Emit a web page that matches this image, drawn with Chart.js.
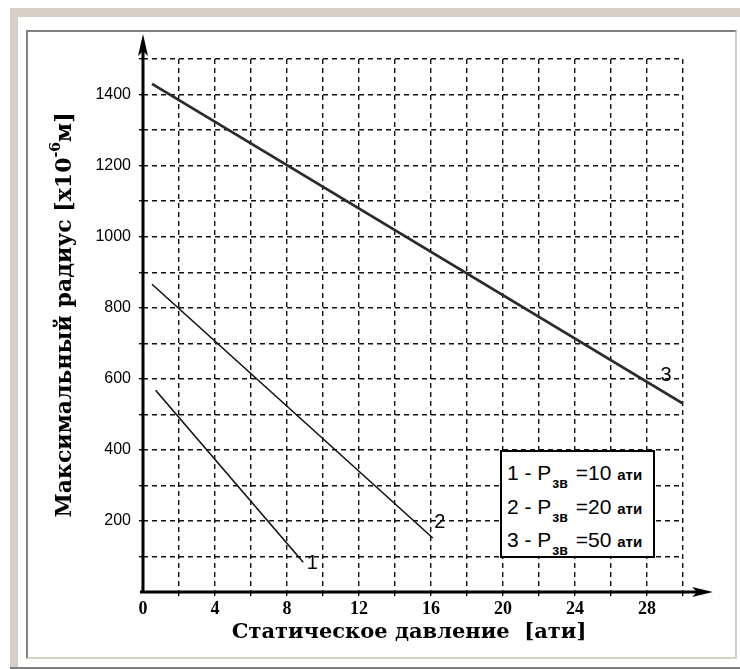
<!DOCTYPE html>
<html>
<head>
<meta charset="utf-8">
<script src="https://cdn.jsdelivr.net/npm/chart.js@4/dist/chart.umd.min.js"></script>
<style>
  html, body { margin: 0; padding: 0; background: #fff; }
  #page { position: relative; width: 740px; height: 669px; overflow: hidden; background: #fff; }
  .band { position: absolute; background: #d4d0c8; }
  #frame {
    position: absolute; left: 26px; top: 30px; width: 707px; height: 625px;
    border-top: 2px solid #808080; border-left: 2px solid #808080;
    border-right: 2px solid #d4d0c8; border-bottom: 2px solid #d4d0c8;
  }
  #plot { position: absolute; left: 0; top: 0; z-index: 1; }
  #key {
    position: absolute; left: 500px; top: 450px; width: 151px; height: 104px;
    border: 2px solid #000; background: #fff; z-index: 2;
    font-family: "Liberation Sans", Arial, sans-serif; color: #000;
  }
  #key div { position: absolute; left: 5px; font-size: 21px; line-height: 24px; white-space: nowrap; }
  #key sub { font-size: 14px; font-weight: bold; vertical-align: -8px; line-height: 0; margin: 0 2px 0 1px; }
  #key b { font-size: 15px; }
</style>
</head>
<body>
<div id="page">
  <div class="band" style="left:10px; top:8px; width:730px; height:9px;"></div>
  <div class="band" style="left:10px; top:8px; width:8px; height:659px;"></div>
  <div style="position:absolute; left:10px; top:667px; width:730px; height:2px; background:#808080;"></div>
  <div id="frame"></div>
  <canvas id="plot" width="740" height="669"></canvas>
  <div id="key">
    <div style="top:9px;">1 - P<sub>зв</sub> =10 <b>ати</b></div>
    <div style="top:43px;">2 - P<sub>зв</sub> =20 <b>ати</b></div>
    <div style="top:76px;">3 - P<sub>зв</sub> =50 <b>ати</b></div>
  </div>
</div>
<script>
// Максимальный радиус vs статическое давление, three curves
const pressure1 = [0.7, 8.9];
const radius1 = [568, 84];
const pressure2 = [0.5, 16.1];
const radius2 = [866, 152];
const pressure3 = [0.5, 30];
const radius3 = [1430, 530];
const curveNames = ['1', '2', '3'];

const xTitle = 'Статическое давление  [ати]';
const yTitleMain = 'Максимальный радиус [х10';
const yTitleSup = '-6';
const yTitleEnd = 'м]';

function toPoints(xs, ys) {
    return xs.map((x, i) => ({ x: x, y: ys[i] }));
}

// axes with arrow heads, curve numbers and axis titles
const decorations = {
    id: 'decorations',
    afterDatasetsDraw(chart) {
        const ctx = chart.ctx;
        const xs = chart.scales.x, ys = chart.scales.y;
        const x0 = xs.getPixelForValue(0);
        const y0 = ys.getPixelForValue(0);

        ctx.save();
        ctx.strokeStyle = '#000';
        ctx.fillStyle = '#000';
        ctx.lineWidth = 3;
        ctx.setLineDash([]);
        // y axis
        ctx.beginPath();
        ctx.moveTo(x0, y0 + 1);
        ctx.lineTo(x0, 50);
        ctx.stroke();
        ctx.beginPath();
        ctx.moveTo(x0, 34);
        ctx.lineTo(x0 + 5, 56);
        ctx.lineTo(x0, 51);
        ctx.lineTo(x0 - 5, 56);
        ctx.closePath();
        ctx.fill();
        // x axis
        ctx.beginPath();
        ctx.moveTo(x0 - 3, y0);
        ctx.lineTo(700, y0);
        ctx.stroke();
        ctx.beginPath();
        ctx.moveTo(713, y0);
        ctx.lineTo(692, y0 - 5);
        ctx.lineTo(697, y0);
        ctx.lineTo(692, y0 + 5);
        ctx.closePath();
        ctx.fill();

        // curve numbers next to the end of each line
        const offsets = [[9, 1], [7, -16], [-17, -28]];
        ctx.font = '20px "Liberation Sans", Arial, sans-serif';
        ctx.textAlign = 'center';
        ctx.textBaseline = 'middle';
        chart.data.datasets.forEach((ds, i) => {
            const last = ds.data[ds.data.length - 1];
            const px = xs.getPixelForValue(last.x) + offsets[i][0];
            const py = ys.getPixelForValue(last.y) + offsets[i][1];
            ctx.fillText(curveNames[i], px, py);
        });

        // x title
        ctx.font = 'bold 21px "DejaVu Serif", serif';
        ctx.textBaseline = 'middle';
        ctx.fillText(xTitle, 409, 633);

        // y title, rotated, with superscript power
        ctx.translate(65, 315);
        ctx.rotate(-Math.PI / 2);
        const mainFont = 'bold 22px "DejaVu Serif", serif';
        const supFont = 'bold 14px "DejaVu Serif", serif';
        ctx.font = mainFont;
        const w1 = ctx.measureText(yTitleMain).width;
        const w3 = ctx.measureText(yTitleEnd).width;
        ctx.font = supFont;
        const w2 = ctx.measureText(yTitleSup).width;
        let cx = -(w1 + w2 + w3) / 2;
        ctx.textAlign = 'left';
        ctx.font = mainFont;
        ctx.fillText(yTitleMain, cx, 0);
        cx += w1;
        ctx.font = supFont;
        ctx.fillText(yTitleSup, cx, -9);
        cx += w2;
        ctx.font = mainFont;
        ctx.fillText(yTitleEnd, cx, 0);
        ctx.restore();
    }
};

const gridColor = (c) => (c.tick && c.tick.value === 0) ? 'rgba(0,0,0,0)' : '#111';

new Chart(document.getElementById('plot').getContext('2d'), {
    type: 'scatter',
    data: {
        datasets: [
            {
                label: curveNames[0],
                data: toPoints(pressure1, radius1),
                showLine: true,
                borderColor: '#111',
                borderWidth: 1.6,
                pointRadius: 0
            },
            {
                label: curveNames[1],
                data: toPoints(pressure2, radius2),
                showLine: true,
                borderColor: '#111',
                borderWidth: 1.6,
                pointRadius: 0
            },
            {
                label: curveNames[2],
                data: toPoints(pressure3, radius3),
                showLine: true,
                borderColor: '#2a2a2a',
                borderWidth: 2.8,
                pointRadius: 0
            }
        ]
    },
    options: {
        responsive: false,
        animation: false,
        devicePixelRatio: 1,
        layout: { padding: { top: 59, right: 57, left: 0, bottom: 0 } },
        plugins: {
            legend: { display: false },
            tooltip: { enabled: false }
        },
        scales: {
            x: {
                type: 'linear',
                min: 0,
                max: 30,
                afterFit(s) { s.height = 77; s.paddingLeft = 0; s.paddingRight = 0; },
                border: { display: false, dash: [5, 4] },
                grid: { color: gridColor, lineWidth: 1.4, tickLength: 4, tickWidth: 1.4, tickBorderDash: [] },
                ticks: {
                    stepSize: 2,
                    autoSkip: false,
                    maxRotation: 0,
                    padding: 3,
                    color: '#000',
                    font: { family: '"Liberation Serif", serif', size: 18, weight: 'bold' },
                    callback: (v) => (v % 4 === 0 && v < 30) ? String(v) : ''
                }
            },
            y: {
                type: 'linear',
                min: 0,
                max: 1500,
                afterFit(s) { s.width = 143; s.paddingTop = 0; s.paddingBottom = 0; },
                border: { display: false, dash: [5, 4] },
                grid: { color: gridColor, lineWidth: 1.4, tickLength: 4, tickWidth: 1.4, tickBorderDash: [] },
                ticks: {
                    stepSize: 100,
                    autoSkip: false,
                    padding: 8,
                    color: '#000',
                    font: { family: '"Liberation Sans", Arial, sans-serif', size: 16 },
                    callback: (v) => (v % 200 === 0 && v > 0 && v < 1500) ? String(v) : ''
                }
            }
        }
    },
    plugins: [decorations]
});
</script>
</body>
</html>
